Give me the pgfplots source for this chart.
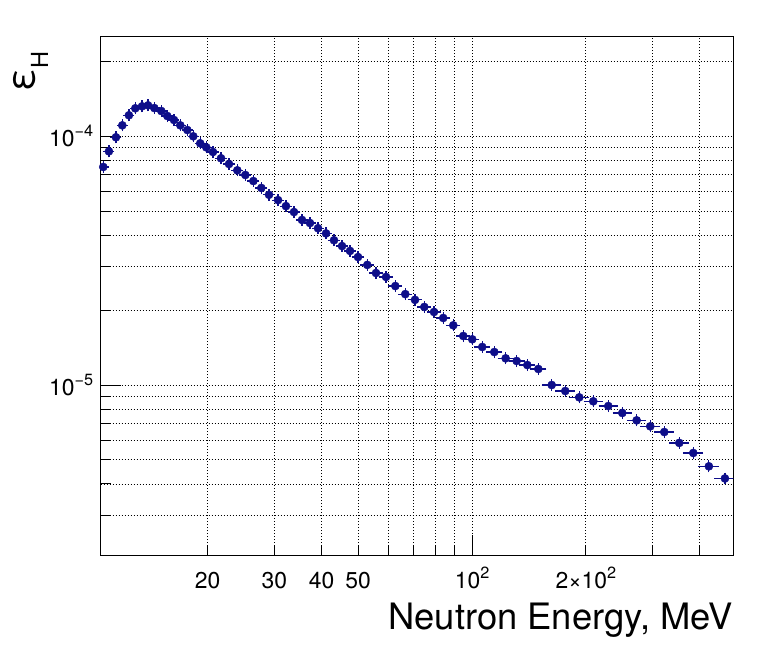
\documentclass[border=0pt]{standalone}
\usepackage{fontspec}
\setmainfont{TeX Gyre Heros}
\usepackage{pgfplots}
\pgfplotsset{compat=1.18}
\usepackage{pgfplotstable}
\definecolor{rootblue}{RGB}{14,14,138}
\newcommand{\sups}[1]{\raisebox{10bp}{\fontsize{16.3}{16}\selectfont #1}}
\pgfplotstableread{
E y xr
10.59 7.53e-5 0.02
10.96 8.70e-5 0.02
11.44 9.91e-5 0.02
11.89 1.107e-4 0.02
12.38 1.215e-4 0.02
12.87 1.296e-4 0.02
13.41 1.320e-4 0.02
13.91 1.332e-4 0.02
14.45 1.299e-4 0.02
15.08 1.264e-4 0.02
15.64 1.207e-4 0.02
16.29 1.163e-4 0.02
16.93 1.107e-4 0.02
17.67 1.060e-4 0.02
18.32 1.000e-4 0.02
19.11 9.37e-5 0.02
19.83 9.03e-5 0.02
20.65 8.65e-5 0.024
21.69 8.16e-5 0.024
22.77 7.74e-5 0.024
23.95 7.30e-5 0.024
25.15 6.99e-5 0.024
26.41 6.61e-5 0.024
27.72 6.20e-5 0.024
29.05 5.82e-5 0.024
30.69 5.54e-5 0.024
32.21 5.24e-5 0.024
33.82 4.96e-5 0.024
35.51 4.61e-5 0.024
37.28 4.48e-5 0.024
39.15 4.27e-5 0.024
41.11 4.07e-5 0.024
43.15 3.82e-5 0.024
45.31 3.62e-5 0.024
47.57 3.46e-5 0.024
49.94 3.27e-5 0.024
52.84 3.04e-5 0.029
55.72 2.82e-5 0.029
59.23 2.72e-5 0.029
62.68 2.50e-5 0.029
66.6 2.32e-5 0.029
70.66 2.20e-5 0.029
74.78 2.06e-5 0.029
79.32 1.966e-5 0.029
83.9 1.860e-5 0.029
89.2 1.738e-5 0.029
94.8 1.574e-5 0.029
100.1 1.527e-5 0.029
106.4 1.422e-5 0.034
114.5 1.357e-5 0.035
122.7 1.280e-5 0.035
131.2 1.249e-5 0.035
140.0 1.203e-5 0.035
149.7 1.160e-5 0.036
162.4 1.000e-5 0.045
176.4 9.46e-6 0.045
192.1 8.92e-6 0.045
209.2 8.60e-6 0.045
229.2 8.23e-6 0.045
249.6 7.72e-6 0.045
272.4 7.21e-6 0.045
296.0 6.82e-6 0.046
322.3 6.47e-6 0.046
353.1 5.85e-6 0.047
384.6 5.33e-6 0.048
422.9 4.71e-6 0.049
466.3 4.21e-6 0.05
}\datatable

\begin{document}
\begin{tikzpicture}
\path[use as bounding box] (0,0) rectangle (760bp,651bp);
\begin{axis}[
 at={(100.7bp,96bp)}, anchor=south west, scale only axis,
 width=632.6bp, height=519bp,
 xmode=log, ymode=log,
 xmin=10.426, xmax=490.7, ymin=2.072e-6, ymax=2.531e-4,
 axis line style={line width=1bp},
 xtick={100}, xticklabels={10\sups{2}},
 minor xtick={20,30,40,50,60,70,80,90,200,300,400},
 extra x ticks={20,30,40,50,200},
 extra x tick labels={20,30,40,50,2×10\sups{2}},
 extra x tick style={major tick length=10bp, grid=none},
 ytick={1e-5,1e-4}, yticklabels={10\sups{−5},10\sups{−4}},
 minor ytick={3e-6,4e-6,5e-6,6e-6,7e-6,8e-6,9e-6,2e-5,3e-5,4e-5,5e-5,6e-5,7e-5,8e-5,9e-5,2e-4},
 major tick length=20bp, minor tick length=10bp,
 tick style={black, line width=1bp},
 grid=both,
 major grid style={black, line width=0.8bp, dash pattern=on 1bp off 2bp},
 minor grid style={black, line width=0.8bp, dash pattern=on 1bp off 2bp},
 xtick pos=bottom, ytick pos=left,
 tick label style={font=\fontsize{23}{24}\selectfont},
 xticklabel style={anchor=base, yshift=-33.3bp, inner sep=0pt},
 yticklabel style={anchor=base east, xshift=-7.4bp, yshift=-10bp, inner sep=0pt},
]
\addplot[only marks, mark=*, mark size=4.1bp, color=rootblue,
  mark options={fill=rootblue, draw=rootblue},
  error bars/.cd, x dir=both, x explicit relative, y dir=both, y explicit relative,
  error bar style={line width=1.2bp, rootblue},
  error mark options={rootblue, line width=1.2bp, mark size=2.2bp}]
  table[x=E, y=y, x error=xr, y error expr=0.035] {\datatable};
\end{axis}
\node[anchor=base east, inner sep=0pt, font=\fontsize{36.5}{36}\selectfont] at (733.3bp, 22bp) {Neutron Energy, MeV};
\node[rotate=90, anchor=base east, inner sep=0pt] at (34.5bp, 600bp) {\fontsize{38}{38}\selectfont ε\raisebox{-13.5bp}{\fontsize{23.6}{24}\selectfont H}};
\end{tikzpicture}
\end{document}
